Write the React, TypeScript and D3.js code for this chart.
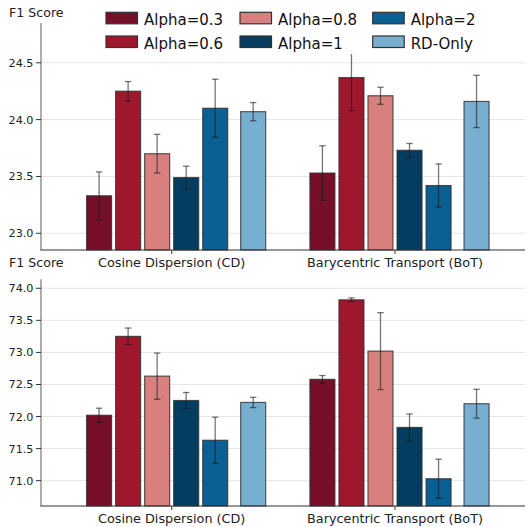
import React from "react";
import * as d3 from "d3";

// ---- data ----
const categories = ["Cosine Dispersion (CD)", "Barycentric Transport (BoT)"];
const seriesNames = ["Alpha=0.3", "Alpha=0.6", "Alpha=0.8", "Alpha=1", "Alpha=2", "RD-Only"];
const seriesColors = ["#760f27", "#9e172d", "#d7807d", "#053d61", "#0a6093", "#78aed0"];

const topMeans = [
  [23.33, 24.25, 23.7, 23.49, 24.1, 24.07],
  [23.53, 24.37, 24.21, 23.73, 23.42, 24.16],
];
const topErrors = [
  [0.21, 0.085, 0.17, 0.1, 0.255, 0.08],
  [0.24, 0.29, 0.075, 0.06, 0.19, 0.23],
];
const topTicks = [23.0, 23.5, 24.0, 24.5];

const bottomMeans = [
  [72.02, 73.25, 72.63, 72.25, 71.63, 72.22],
  [72.58, 73.82, 73.02, 71.83, 71.03, 72.2],
];
const bottomErrors = [
  [0.11, 0.13, 0.36, 0.125, 0.36, 0.08],
  [0.06, 0.03, 0.6, 0.21, 0.305, 0.225],
];
const bottomTicks = [71.0, 71.5, 72.0, 72.5, 73.0, 73.5, 74.0];

const FONT = "DejaVu Sans, sans-serif";

// ---- layout ----
const W = 527;
const left = 41;
const right = 525;
const xScale = d3.scaleLinear().domain([-0.585, 1.582]).range([left, right]);
const step = 0.13;
const barW = 0.112;
const rdGap = 0.04;

const barCenter = (g: number, i: number) =>
  g + (i - 2.5) * step + (i === 5 ? rdGap : 0);

type PanelProps = {
  means: number[][];
  errors: number[][];
  ticks: number[];
  domain: [number, number];
  top: number;
  bottom: number;
  labelY: number;
  fmt: (v: number) => string;
};

function Panel({ means, errors, ticks, domain, top, bottom, labelY, fmt }: PanelProps) {
  const y = d3.scaleLinear().domain(domain).range([bottom, top]);
  const bw = xScale(barW) - xScale(0);
  return (
    <g>
      {/* grid */}
      {ticks.map((t) => (
        <line key={"g" + t} x1={left} x2={right} y1={y(t)} y2={y(t)} stroke="#e6e6e6" strokeWidth={1} />
      ))}
      {/* bars */}
      {means.map((row, g) =>
        row.map((v, i) => {
          const cx = xScale(barCenter(g, i));
          return (
            <rect
              key={`b${g}-${i}`}
              x={cx - bw / 2}
              y={y(v)}
              width={bw}
              height={bottom - y(v)}
              fill={seriesColors[i]}
              stroke="#2a2a2a"
              strokeOpacity={0.75}
              strokeWidth={1.2}
            />
          );
        })
      )}
      {/* error bars */}
      {means.map((row, g) =>
        row.map((v, i) => {
          const cx = xScale(barCenter(g, i));
          const e = errors[g][i];
          const y1 = y(v + e);
          const y2 = y(v - e);
          return (
            <g key={`e${g}-${i}`} stroke="#1a1a1a" strokeOpacity={0.6} strokeWidth={1.3}>
              <line x1={cx} x2={cx} y1={y1} y2={y2} />
              <line x1={cx - 3.2} x2={cx + 3.2} y1={y1} y2={y1} />
              <line x1={cx - 3.2} x2={cx + 3.2} y1={y2} y2={y2} />
            </g>
          );
        })
      )}
      {/* axes */}
      <line x1={left} x2={left} y1={top} y2={bottom} stroke="#777" strokeWidth={1.2} />
      <line x1={left - 0.6} x2={right} y1={bottom} y2={bottom} stroke="#333" strokeWidth={1.2} />
      {ticks.map((t) => (
        <g key={"t" + t}>
          <line x1={left - 5} x2={left} y1={y(t)} y2={y(t)} stroke="#333" strokeWidth={1} />
          <text x={left - 7.5} y={y(t) + 4} textAnchor="end" fontSize={11.2} fill="#222" fontFamily={FONT}>
            {fmt(t)}
          </text>
        </g>
      ))}
      {categories.map((c, g) => (
        <g key={c}>
          <line x1={xScale(g)} x2={xScale(g)} y1={bottom} y2={bottom + 4} stroke="#333" strokeWidth={1} />
          <text x={xScale(g)} y={bottom + 16.5} textAnchor="middle" fontSize={12.8} fill="#222" fontFamily={FONT}>
            {c}
          </text>
        </g>
      ))}
      <text x={9} y={labelY} fontSize={12.6} fill="#222" fontFamily={FONT}>
        F1 Score
      </text>
    </g>
  );
}

const legendCols = [106, 240, 372.7];
const legendRows = [12.3, 36];

export default function App() {
  const fmt = d3.format(".1f");
  return (
    <svg
      width={W}
      height={W}
      style={{ position: "absolute", left: 0, top: 0, background: "#fff" }}
    >
      <Panel
        means={topMeans}
        errors={topErrors}
        ticks={topTicks}
        domain={[22.853, 24.85]}
        top={23}
        bottom={250}
        labelY={17.3}
        fmt={fmt}
      />
      <Panel
        means={bottomMeans}
        errors={bottomErrors}
        ticks={bottomTicks}
        domain={[70.605, 74.14]}
        top={279.3}
        bottom={506}
        labelY={267}
        fmt={fmt}
      />
      {/* legend */}
      <rect x={95} y={4} width={430} height={50} fill="#fff" />
      {seriesNames.map((s, i) => {
        const col = Math.floor(i / 2);
        const row = i % 2;
        const x = legendCols[col];
        const yy = legendRows[row];
        return (
          <g key={s}>
            <rect x={x} y={yy} width={31.5} height={11.5} fill={seriesColors[i]} stroke="#333" strokeWidth={1.2} />
            <text x={x + 38} y={yy + 12.7} fontSize={15} fill="#111" fontFamily={FONT}>
              {s}
            </text>
          </g>
        );
      })}
    </svg>
  );
}
